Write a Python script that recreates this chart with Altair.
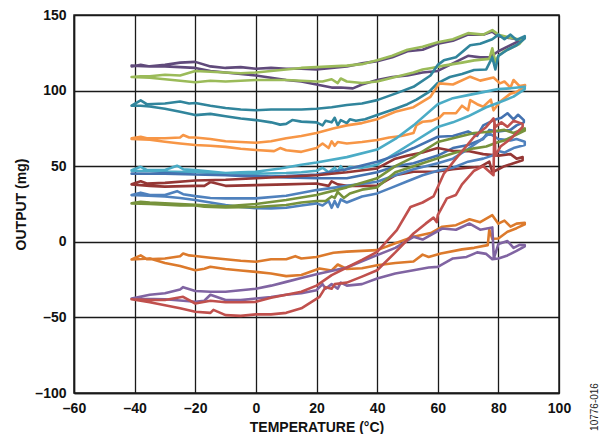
import altair as alt
import pandas as pd

# ---- data: each list is one temperature loop, points as [temperature °C, output mg] ----
purple_top = [[-41,116],[-38,117],[-35,116],[-30,117],[-25,118.5],[-20,119],[-15,116],[-10,115],[-5,115.5],[0,114.5],
    [5,115],[10,114.5],[15,114.5],[20,114],[25,115],[30,116],[35,118],[40,119.5],[45,122],[50,126],
    [55,127],[60,131],[65,133],[70,137],[75,137],[78,139],[80,136],[83,135],[86,134],[88,134],
    [86,132],[84,130],[82,128],[80,126],[77,122],[74,122],[70,123],[65,118],[60,113],[55,112],
    [50,110],[45,109],[40,107],[35,104],[32,101.5],[28,102],[25,102],[20,104],[15,106],[10,107],
    [5,108.5],[0,110],[-5,111],[-10,112],[-15,113],[-20,115],[-25,115.5],[-30,116],[-35,116],[-41,116.5]]

green_top = [[-41,109],[-38,109.5],[-35,109.5],[-30,110.5],[-25,110],[-20,113],[-15,112.5],[-10,112],[-5,111.5],[0,112],
    [5,113],[10,114],[15,115],[20,115.5],[25,116],[30,116.5],[35,117.5],[40,120],[45,123],[50,127],[55,129],[60,132],
    [65,134],[70,138],[75,137],[78,140],[80,137],[84,135],[88,133.5],
    [87,131],[85,129],[82,126],[80,123],[79,119],[78,128],[77,121],[72,120],[68,118.5],[62,116.5],[58,115],[55,114],
    [52,112],[48,110],[44,108],[40,106],[35,105],[30,106],[28,108],[27,105],[25,107.5],[22,106],[20,106],[15,106.5],
    [10,107],[5,107],[0,107],[-5,106.5],[-10,106],[-15,106.5],[-20,105.5],[-25,106.5],[-30,107.5],[-35,108.5],[-41,109]]

teal = [[-41,90],[-38,93.5],[-36,91],[-30,91.5],[-25,92.8],[-22,91.5],[-20,91.8],[-15,90],[-10,88.5],[-5,87.5],[0,87],
    [5,87.5],[10,87.5],[15,87.5],[20,88],[25,89],[30,90.5],[35,91.5],[40,93.7],[46,98],[52,102.5],[57.6,110],[60,117],
    [62,120],[66,122],[70.7,130],[74,131],[78,134],[80,137],[82,134],[84,137],[86,133.5],[88.7,136],
    [88.7,134.5],[86,130],[83,127],[80,123],[79,114],[78,122],[76,114],[72,113.6],[68,111],[64,109],[60,105],[57,99],
    [53,94],[50,91],[46,88],[40,83.8],[36,81],[33,80],[31,81],[30,78.5],[28,80.5],[27,77],[26,82],[25,79],[23,80],
    [22,77],[20,79],[15,79.5],[12,80.5],[10,78],[8,77.5],[5,79],[0,80.5],[-5,81.5],[-10,83],[-15,84.6],[-20,83.8],
    [-25,86],[-30,88],[-35,89.5],[-38,90],[-41,90]]

orange = [[-41,68.4],[-38,69.5],[-36,68.5],[-30,68.5],[-25,69],[-24,70.6],[-22,69],[-20,69],[-15,68],[-10,66.5],[-5,66],
    [0,65.5],[5,66.5],[10,68.5],[15,70],[20,72],[25.5,75],[30,77],[35,78.5],[40,81],[46,86],[52,89],[57.6,95.9],
    [60.5,104.8],[65,104],[70.7,109.2],[74,106.6],[78.4,108.7],[80.5,104.8],[82,106],[84,102],[85,107],[87,103],[88.8,103.7],
    [88.8,103],[86,99],[84,98],[80.5,92.6],[78.4,87],[77.5,94],[75,89.3],[73,91],[70.7,93.7],[70,87],[68,90],[66,85],
    [62,85],[60.5,82],[58,80],[55,79.4],[53,77.2],[52,72],[48,70],[44,69],[40,67.3],[35,66],[30,65],[27,66],[26,63.5],
    [25,66.5],[24,62],[22,65],[20,62],[15,59.5],[10,60.5],[8,62],[6,60],[0,60.7],[-5,61.5],[-10,62.8],[-15,63.5],
    [-20,64],[-25,65],[-30,66.2],[-35,67.5],[-41,68]]

cyan = [[-41,47.4],[-38,49.6],[-36,47.5],[-30,47.5],[-26,50.3],[-24,48],[-20,47.4],[-15,46.5],[-10,45.5],[-5,46],[0,46.3],
    [8,48.5],[15,51],[20,52.5],[30,56],[40,61],[46,68],[52,77],[60,91],[65,95],[70,97],[75,99],[80,101],[84,101.5],[88.7,102.6],
    [88.7,101],[85,96],[80,92],[76,89],[70,83],[65,79],[60,76],[52,66],[46,58.5],[40,51],[35,49],[31,49.5],[29,47],[28,50],
    [27,46.5],[26,49],[24,46],[22,49],[20,47],[15,46],[10,45.5],[0,45],[-10,45.2],[-20,46],[-30,46.5],[-41,47]]

dark_blue = [[-41,45.2],[-35,45],[-30,45.5],[-20,44.5],[-10,44],[0,43],[10,43.5],[20,44.5],[30,48],[40,53],[46,57],[52,62],
    [60,69.5],[65,70],[70,73],[73,70],[75,77],[78.5,80.5],[81,82],[83,85],[85,81],[86.5,84],[88.4,80.5],
    [88.4,79],[86,77],[84,74],[80,73],[77,74],[75,68],[70,64],[65,62],[60,57],[52,52],[46,50],[40,46],[30,42],[20,42],
    [10,42.5],[0,43.5],[-10,44],[-20,44.5],[-30,45],[-41,45]]

dark_red = [[-41,38],[-38,40],[-36,38.5],[-30,39],[-20,40.5],[-10,41],[0,42],[10,43],[20,44],[30,46],[40,48.5],[46,55],
    [50,57],[55,59],[60,62],[65,60],[70,60],[75,58],[80,57],[84,58],[86,55],[88,56],
    [88,54],[85,52],[82,50],[80,48],[78,46],[77,53],[74,49.6],[70,49],[65,48],[60,46.5],[52,46.3],[46,44],[40,37],
    [35,37],[30,37],[27,38],[25,40],[24,37],[20,38.6],[10,38],[0,37.5],[-10,37],[-15,39.5],[-17,37],[-20,37],
    [-30,36.5],[-35,37],[-41,38]]

blue = [[-41,30.9],[-38,32.5],[-35,31],[-30,31],[-26,33.5],[-24,31.5],[-20,30.2],[-15,29],[-10,28.7],[0,28.7],[10,30.5],
    [20,34.2],[30,37],[40,39.7],[46,44],[52,48],[60,52],[65,55],[69.5,60.7],[74,67],[77,71.7],[80,68],[84,67],[86,68],[88.7,66.2],
    [88.7,64],[85,62],[82,59],[80,60],[78,57],[75,55],[70,53],[65,49],[60,47],[55,44],[50,40],[45,36],[40,32],[35,30],
    [30,26],[28,28],[27,23],[26,27],[25,22.5],[24,27],[22,24],[20,25.4],[15,24],[10,22.5],[5,22.1],[0,22.3],[-5,23],
    [-10,24.3],[-15,26],[-20,27.6],[-25,29],[-30,30],[-41,31]]

olive = [[-41,25.4],[-38,26.5],[-35,26],[-30,25.5],[-25,25],[-20,24.5],[-15,24],[-10,23.5],[0,25],[10,27.6],[20,31],[30,36],
    [40,42],[46,50],[52,56],[60,66],[66,69],[72,72],[78,73],[82,74],[85,72],[88.7,75],
    [88.7,73.5],[85,70],[82,67],[80,66],[76,63],[72,61.8],[66,59],[63,57.3],[58,54],[52,50],[46,46],[40,36],[35,34.5],
    [31,32],[29,29],[27,33],[26,29],[25,30],[23,27],[20,27],[15,26],[10,24.3],[0,23],[-10,22.7],[-17,23.2],[-20,24],
    [-25,24],[-30,24.5],[-35,25],[-41,25.4]]

brown = [[-41,-11.7],[-38,-9],[-36,-11.5],[-30,-11],[-25,-9.5],[-24,-7.7],[-22,-9],[-20,-9.4],[-15,-10.5],[-10,-11.5],
    [-5,-12.5],[0,-13.2],[5,-11.5],[10,-11.5],[13,-9.5],[15,-11],[20,-10],[25.6,-7.2],[30,-6.5],[40,-5.5],[46,-1],[52,3.3],
    [58,6],[61.5,10],[66,11],[70.5,14.9],[74,13],[78,17.6],[80,12],[82,14],[84,10],[86,12],[88.7,12.6],
    [88.7,11.5],[86,9],[83,6.6],[80,2.2],[78,2],[77,8],[76.5,-2.2],[72,-4],[68,-5],[61,-7.7],[57,-10],[55,-8.5],[52,-13],
    [46,-14],[40,-15.5],[35,-17.5],[30,-18],[27,-15],[25,-19],[21,-17.6],[15,-22],[10,-22.7],[5,-21],[0,-19.9],[-5,-19],
    [-10,-18],[-15,-16.5],[-17,-17.8],[-20,-18.8],[-25,-16],[-30,-14],[-35,-11],[-41,-11.7]]

purple_bot = [[-41,-37.5],[-35,-35],[-30,-34],[-25,-31.5],[-24,-30],[-20,-32.5],[-15,-33],[-10,-33],[-5,-32],[0,-31],[5,-29],
    [10,-26.5],[15,-24],[20,-21.5],[30,-17],[40,-8.8],[46,-4],[52,3.3],[55,1.5],[61.5,8.8],[66,8],[70.5,12.1],[74,8],
    [78,9.5],[78.5,-11],[80,-1.5],[83,0.5],[85,-4],[87,-2],[88.7,-2.2],
    [88.7,-3],[86,-6],[83,-9],[80,-11],[78,-11.5],[76,-8],[73,-7],[69.5,-10],[65,-11],[60,-16.6],[57,-17],[52,-18.8],
    [46,-21],[40,-24.3],[35,-28],[30,-29],[28,-27],[27,-31],[25,-28],[23,-31],[22,-28],[20,-32],[15,-34],[10,-35],
    [5,-36.5],[0,-37.5],[-5,-38.6],[-10,-38.5],[-15,-35],[-17,-39],[-20,-39.7],[-30,-38],[-41,-37.5]]

red = [[-41,-38],[-35,-38.5],[-30,-38.5],[-24,-36.4],[-20,-40.8],[-15,-39],[-10,-40],[-5,-40],[0,-39.7],[5,-37],[10,-35],
    [15,-33],[20,-29],[25,-22],[30,-17],[35,-12],[40,-6.7],[46.5,7.7],[51,23],[55,26],[58.6,30],[62,45],[66,55],[72,69.5],
    [76,76],[78.4,81.6],[79,76],[81,79],[83,76],[85,80],[88,78],
    [88,76],[86,72],[84,68],[80.7,63],[79,57],[78.7,80],[78.4,44],[75,50],[72,47],[68,38],[66,31],[63,28.7],[60,17.6],
    [59.7,13],[58.6,16],[56,12],[52,5.5],[46,-7],[40,-18.8],[35,-23],[30,-27],[26,-28],[25,-31],[23,-30],[21,-36.4],
    [15,-44],[10,-47],[5,-48],[0,-48],[-5,-49],[-10,-48.5],[-14,-45],[-15,-47],[-20,-46.3],[-25,-44],[-30,-42],
    [-35,-40],[-41,-38]]

series_names = ["s01", "s02", "s03", "s04", "s05", "s06", "s07", "s08", "s09", "s10", "s11", "s12"]
series_data = [purple_top, green_top, teal, orange, cyan, dark_blue, dark_red, blue, olive, brown, purple_bot, red]
series_colors = ["#604A7B", "#9BBB59", "#31859C", "#F79646", "#4BACC6", "#4472B0",
                 "#953735", "#4F81BD", "#77933C", "#DC7A2C", "#8064A2", "#C0504D"]

x_ticks = [-60, -40, -20, 0, 20, 40, 60, 80, 100]
y_ticks = [-100, -50, 0, 50, 100, 150]

rows = []
for name, pts in zip(series_names, series_data):
    for i, (t, v) in enumerate(pts):
        rows.append({"series": name, "idx": i, "temp": t, "out": v})
df = pd.DataFrame(rows)

label_expr = "datum.value < 0 ? '\u2013' + abs(datum.value) : '' + datum.value"
FONT = "Liberation Sans"

lines = alt.Chart(df).mark_line(strokeWidth=2.6, strokeJoin="round", strokeCap="round").encode(
    x=alt.X("temp:Q", scale=alt.Scale(domain=[-60, 100], nice=False),
            axis=alt.Axis(values=x_ticks, title="TEMPERATURE (°C)", labelExpr=label_expr,
                          labelFlush=False, titlePadding=5)),
    y=alt.Y("out:Q", scale=alt.Scale(domain=[-100, 150], nice=False),
            axis=alt.Axis(values=y_ticks, title="OUTPUT (mg)", labelExpr=label_expr,
                          labelFlush=False, titlePadding=6)),
    color=alt.Color("series:N", scale=alt.Scale(domain=series_names, range=series_colors), legend=None),
    order=alt.Order("idx:Q"),
)

note = alt.Chart(pd.DataFrame({"t": ["10776-016"]})).mark_text(
    angle=270, font=FONT, fontSize=10, color="#222222", align="center", baseline="middle"
).encode(text="t:N", x=alt.value(521), y=alt.value(392))

chart = alt.layer(lines, note).properties(
    width=485, height=378,
    autosize=alt.AutoSizeParams(type="none"),
    padding={"left": 66, "top": 7, "right": 46, "bottom": 41},
).configure_view(
    stroke="#222222", strokeWidth=1.5
).configure_axis(
    grid=True, gridColor="#1a1a1a", gridWidth=1.3, gridOpacity=1,
    domain=True, domainColor="#1a1a1a", domainWidth=1.5,
    ticks=False, labelPadding=8,
    labelFont=FONT, labelFontSize=14, labelFontWeight="bold", labelColor="#111111",
    titleFont=FONT, titleFontSize=14, titleFontWeight="bold", titleColor="#111111",
)

chart.save("out.html", embed_options={"renderer": "svg", "actions": False})
